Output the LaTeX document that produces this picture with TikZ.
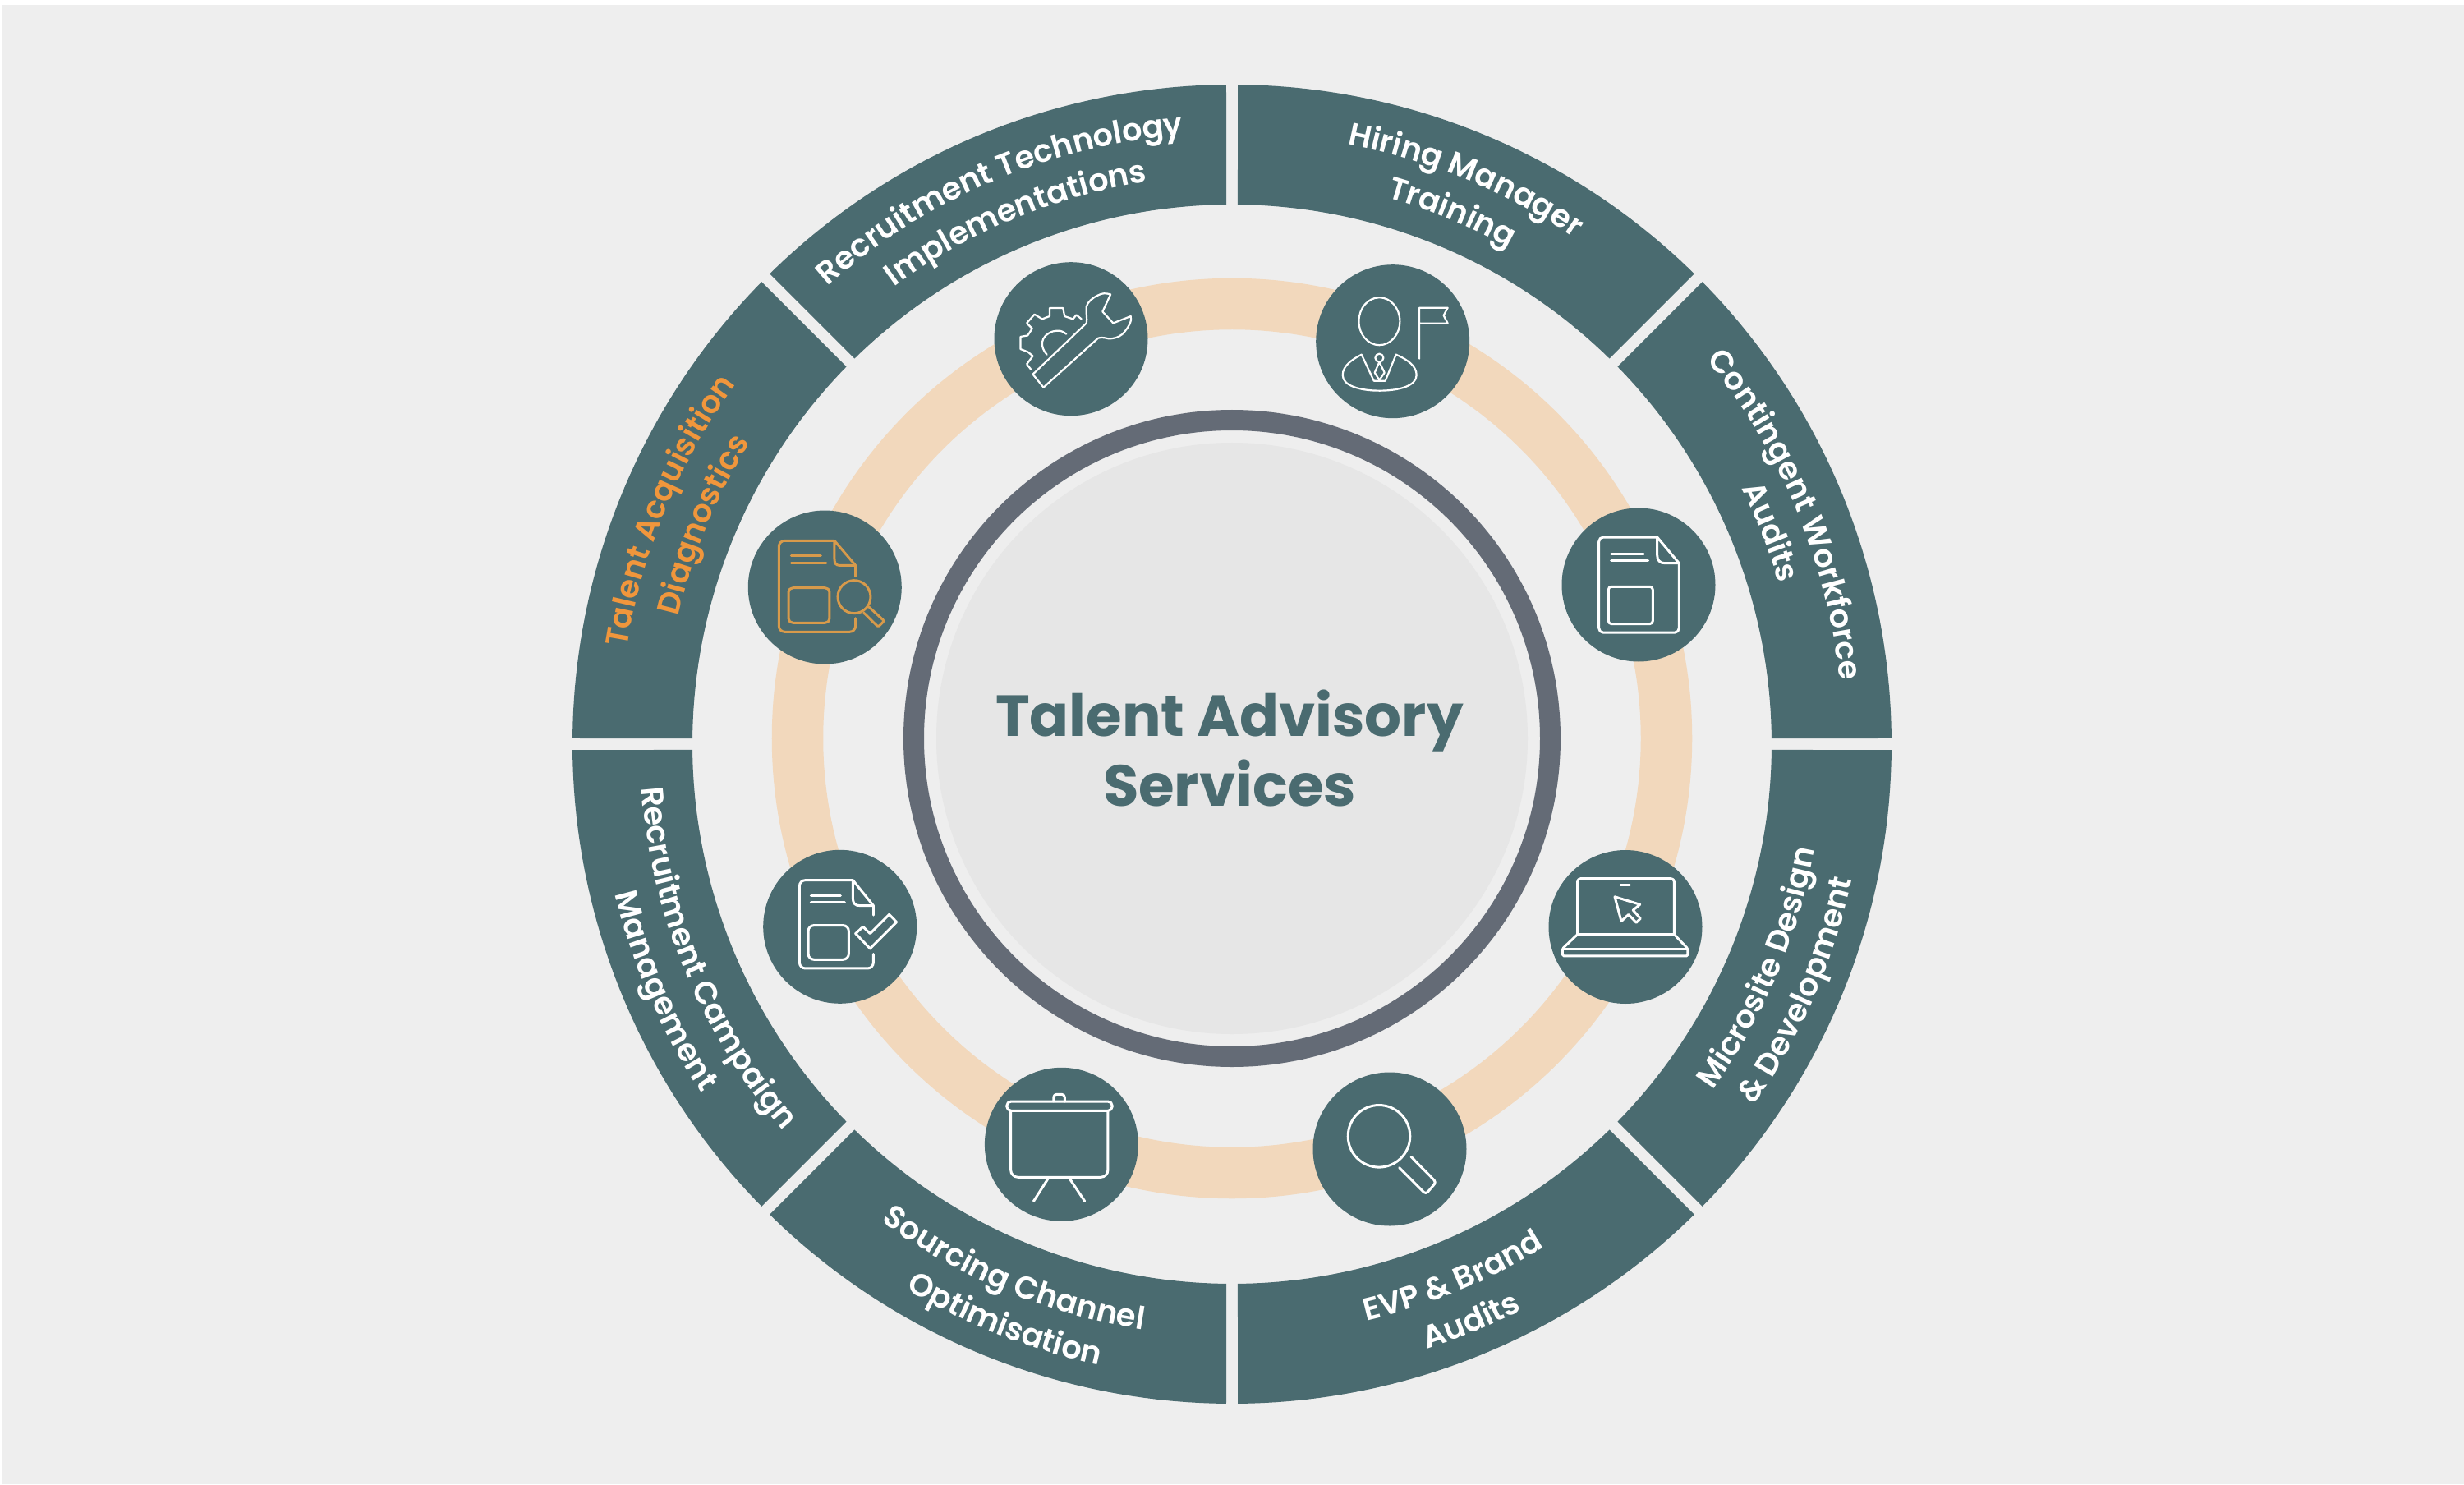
\documentclass[tikz,border=0pt]{standalone}
\usepackage{fontspec}
\setmainfont{Poppins}
\newfontfamily\lblfont{Poppins SemiBold}
\usepackage{xcolor}
\usetikzlibrary{decorations.text}
\definecolor{pagebg}{HTML}{EEEEEE}
\definecolor{teal}{HTML}{4A6B70}
\definecolor{peach}{HTML}{F2D8BC}
\definecolor{slate}{HTML}{646B76}
\definecolor{disk}{HTML}{E6E6E6}
\definecolor{amber}{HTML}{F0963C}
\definecolor{iconamber}{HTML}{D79A4B}

\begin{document}
\begin{tikzpicture}[
    ball/.style={circle, fill=teal, minimum size=1.87cm, inner sep=0pt},
    seg/.style={fill=teal},
    lbl/.style 2 args={decorate, decoration={text along path, text align=center,
        text={|\lblfont\fontsize{10.9}{12}\selectfont\color{#1}|#2}}},
    icon/.style={draw=#1, line width=0.03cm, line join=round, line cap=round, x=0.01cm, y=-0.01cm},
    icon/.default=white,
]
    % Page
    \fill[white] (-15,8.99) rectangle (15,-9.08);
    \fill[pagebg] (-14.98,8.93) rectangle (15,-9.08);
    \useasboundingbox (-15,8.99) rectangle (15,-9.08);

    % Peach track and centre disk
    \draw[peach, line width=0.625cm] (0,0) circle[radius=5.29];
    \draw[slate, line width=0.25cm] (0,0) circle[radius=3.875];
    \fill[disk] (0,0) circle[radius=3.6];
    \node[font=\bfseries\fontsize{20.1}{24.2}\selectfont, text=teal, align=center] (title) at (-0.03,-0.12) {Talent Advisory\\Services};

    % Outer ring, text per segment
    \begin{scope}[shift={(0,-0.07)}]
        \foreach \a in {0,45,...,315} {
            \pgfmathsetmacro\b{\a+45}
            \fill[seg] (\a+.5:8.03) arc[start angle=\a+.5, end angle=\b-.5, radius=8.03]
                -- (\b-.61:6.57) arc[start angle=\b-.61, end angle=\a+.61, radius=6.57] -- cycle;
        }
        \path[lbl={white}{Contingent Workforce}] (45:7.44) arc[start angle=45, end angle=0, radius=7.44];
        \path[lbl={white}{Audits}] (44:6.94) arc[start angle=44, end angle=-1, radius=6.94];
        \path[lbl={white}{Hiring Manager}] (90:7.44) arc[start angle=90, end angle=45, radius=7.44];
        \path[lbl={white}{Training}] (90:6.92) arc[start angle=90, end angle=45, radius=6.92];
        \path[lbl={white}{Recruitment Technology}] (135.5:7.44) arc[start angle=135.5, end angle=90.5, radius=7.44];
        \path[lbl={white}{Implementations}] (135:6.92) arc[start angle=135, end angle=90, radius=6.92];
        \path[lbl={amber}{Talent Acquisition}] (180:7.46) arc[start angle=180, end angle=135, radius=7.46];
        \path[lbl={amber}{Diagnostics}] (180:6.92) arc[start angle=180, end angle=135, radius=6.92];
        \path[lbl={white}{Recruitment Campaign}] (180:7.21) arc[start angle=180, end angle=225, radius=7.21];
        \path[lbl={white}{Management}] (181:7.73) arc[start angle=181, end angle=226, radius=7.73];
        \path[lbl={white}{Sourcing Channel}] (225:7.21) arc[start angle=225, end angle=270, radius=7.21];
        \path[lbl={white}{Optimisation}] (226:7.73) arc[start angle=226, end angle=271, radius=7.73];
        \path[lbl={white}{EVP {\&} Brand}] (270:7.21) arc[start angle=270, end angle=315, radius=7.21];
        \path[lbl={white}{Audits}] (270:7.74) arc[start angle=270, end angle=315, radius=7.74];
        \path[lbl={white}{Microsite Design}] (314.5:7.21) arc[start angle=314.5, end angle=359.5, radius=7.21];
        \path[lbl={white}{{\&} Development}] (314:7.73) arc[start angle=314, end angle=359, radius=7.73];
    \end{scope}

    % Balls on the track
    \node[ball] (gear) at (-1.96,4.863) {};
    \node[ball] (leader) at (1.957,4.833) {};
    \node[ball] (sheet) at (4.95,1.87) {};
    \node[ball] (laptop) at (4.79,-2.295) {};
    \node[ball] (lens) at (1.92,-5.0) {};
    \node[ball] (board) at (-2.076,-4.943) {};
    \node[ball] (check) at (-4.773,-2.293) {};
    \node[ball] (audit) at (-4.957,1.84) {};

    % Icons
    \begin{scope}[shift={(gear)}, icon, line width=0.022cm]
        \draw (-46.5,43) -- (-33.5,59) -- (33,-1) .. controls (40,-3) and (44,0) .. (47.3,-.3)
            .. controls (56,-1) and (62,-4) .. (65.7,-9.3) .. controls (70,-15) and (75,-22) .. (72.7,-27.7)
            -- (51.4,-19.3) -- (38.4,-33.3) -- (48.2,-54.3) .. controls (42,-56) and (38,-56) .. (33,-53.3)
            .. controls (26,-50) and (20,-45) .. (18.8,-39.3) .. controls (18,-32) and (20,-25) .. (18.8,-19.3) -- cycle;
        \draw (-48.6,37.3) -- (-53.9,30.7) -- (-46.5,20.7) -- (-52.7,15.7) -- (-61.6,12.3) -- (-61.6,-2.7)
            -- (-52.7,-4.3) -- (-47.3,-12.7) -- (-53.9,-19.3) -- (-44.5,-30) -- (-35.1,-24.3) -- (-26.1,-27.7)
            -- (-26.1,-37.7) -- (-9.8,-37.7) -- (-7.8,-27.7) -- (2.4,-24.3) -- (6.5,-29.3) -- (12.7,-24.3);
        \draw (-29.4,19) .. controls (-38,10) and (-38,-4) .. (-22,-9.3) .. controls (-15,-11) and (-10,-10) .. (-5.7,-6);
    \end{scope}
    \begin{scope}[shift={(leader)}, icon, line width=0.022cm]
        \draw (-16.3,-24.5) ellipse[x radius=25, y radius=29];
        \draw (-38,16) .. controls (-50,22) and (-61,30) .. (-61,41) .. controls (-61,54) and (-40,60) .. (-16,60)
            .. controls (8,60) and (29,54) .. (29,41) .. controls (29,30) and (18,22) .. (4,16)
            -- (-9,48) -- (-23,48) -- cycle;
        \draw (-16.3,20) circle[radius=5];
        \draw (-16.3,25) -- (-22,38) -- (-16.3,47) -- (-10,38) -- cycle;
        \draw (32.4,21) -- (32.4,-41) -- (67,-41) -- (62,-31.7) -- (67,-22) -- (32.4,-22);
    \end{scope}
    \begin{scope}[shift={(sheet)}, icon]
        \draw[rounded corners=1.5pt] (22.7,-58) -- (-48.3,-58) -- (-48.3,58.2) -- (49.3,58.2) -- (49.3,-26.3);
        \draw (22.7,-58) -- (49.3,-26.3) -- (32,-26.3) .. controls (26,-26.3) and (22.7,-30) .. (22.7,-36) -- cycle;
        \draw (-33.3,-38) -- (6,-38) (-33.3,-30) -- (11.7,-30);
        \draw[rounded corners=1pt] (-36.7,2.3) rectangle (17.3,47.6);
    \end{scope}
    \begin{scope}[shift={(laptop)}, icon]
        \draw[rounded corners=1pt] (-58.3,9) -- (-58.3,-58.8) -- (59.3,-58.8) -- (59.3,9);
        \draw[rounded corners=.5pt] (-58.3,9) -- (59.3,9) -- (76,26.5) -- (76,35.5) -- (-76.7,35.5) -- (-76.7,26.5) -- cycle;
        \draw (-76.7,27.3) -- (76,27.3);
        \draw (-5.7,-51.4) -- (5.3,-51.4);
        \draw (-13,-36.7) -- (17.7,-27.3) -- (9.3,-20.4) -- (18.3,-10.2) -- (13.3,-5.3) -- (3.7,-15) -- (-5,-6.9) -- cycle;
    \end{scope}
    \begin{scope}[shift={(lens)}, icon]
        \draw (-13,-15.7) circle[radius=37.8];
        \draw[rounded corners=1pt] (26,9.3) -- (56.6,40.3) -- (44,55) -- (11.6,22.7);
    \end{scope}
    \begin{scope}[shift={(board)}, icon]
        \draw[rounded corners=1.5pt] (-66.7,-52.3) rectangle (61.9,-41);
        \draw[rounded corners=1pt] (-9.6,-52.3) -- (-9.6,-61) -- (3.9,-61) -- (3.9,-52.3);
        \draw[rounded corners=2.5pt] (-61.8,-41) -- (-61.8,40) -- (56.6,40) -- (56.6,-41);
        \draw (-15.7,40.7) -- (-34,69.3) (9.2,40.7) -- (28.4,69.3);
    \end{scope}
    \begin{scope}[shift={(check)}, icon]
        \draw[rounded corners=2pt] (15.7,-56.7) -- (-49.3,-56.7) -- (-49.3,50.7) -- (40.7,50.7) -- (40.7,33.3);
        \draw (40.7,-14.3) -- (40.7,-25.7);
        \draw (15.7,-56.7) -- (40.7,-25.7) -- (24,-25.7) .. controls (18,-25.7) and (15.7,-29) .. (15.7,-35) -- cycle;
        \draw (-35.3,-38.3) -- (.7,-38.3) (-35.3,-30) -- (5.7,-30);
        \draw[rounded corners=2pt] (-38.7,-1.7) rectangle (10.7,40);
        \draw (19,8.3) -- (28,0) -- (36.7,8.3) -- (60,-15) -- (69,-5.7) -- (36.7,26.7) -- cycle;
    \end{scope}
    \begin{scope}[shift={(audit)}, icon=iconamber]
        \draw[rounded corners=2pt] (11.7,-56.7) -- (-56,-56.7) -- (-56,54.3) -- (37.3,54.3) -- (37.3,37.7);
        \draw (37.3,-13.3) -- (37.3,-26.7);
        \draw (11.7,-56.7) -- (37.3,-26.7) -- (18,-26.7) .. controls (13.7,-26.7) and (11.7,-29) .. (11.7,-34) -- cycle;
        \draw (-41,-38.3) -- (-5,-38.3) (-41,-30) -- (1.7,-30);
        \draw[rounded corners=1.5pt] (-44.3,.7) rectangle (5.7,43.3);
        \draw (35.7,11.7) circle[radius=20];
        \draw[rounded corners=.5pt] (54,24.3) -- (72.3,41) -- (65,48.3) -- (47.3,31);
    \end{scope}
\end{tikzpicture}
\end{document}
